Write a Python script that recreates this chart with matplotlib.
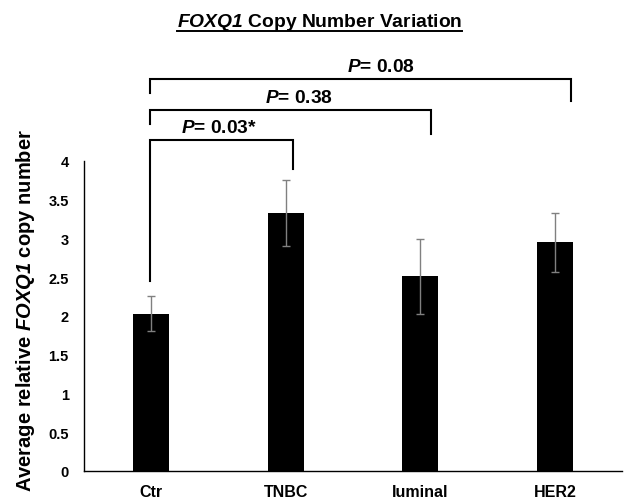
import matplotlib
matplotlib.use("Agg")
import matplotlib.pyplot as plt
from matplotlib.lines import Line2D

plt.rcParams['font.family'] = ['Liberation Sans', 'DejaVu Sans']
plt.rcParams['mathtext.fontset'] = 'custom'
plt.rcParams['mathtext.rm'] = 'Liberation Sans:bold'
plt.rcParams['mathtext.bf'] = 'Liberation Sans:bold'
plt.rcParams['mathtext.it'] = 'Liberation Sans:bold:italic'
plt.rcParams['mathtext.bfit'] = 'Liberation Sans:bold:italic'

categories = ["Ctr", "TNBC", "luminal", "HER2"]
values = [2.03, 3.33, 2.51, 2.95]
errors = [0.23, 0.43, 0.48, 0.38]
yticks = [0, 0.5, 1, 1.5, 2, 2.5, 3, 3.5, 4]
ytick_labels = ["0", "0.5", "1", "1.5", "2", "2.5", "3", "3.5", "4"]
p_labels = ["= 0.03*", "= 0.38", "= 0.08"]

fig = plt.figure(figsize=(6.44, 5.02), dpi=100)
ax = fig.add_axes([0.1304, 0.0598, 0.8356, 0.6175])
x = list(range(len(categories)))
ax.bar(x, values, width=0.27, color='black', zorder=2)
ax.errorbar(x, values, yerr=errors, fmt='none', ecolor='#808080', elinewidth=1.0,
            capsize=3, capthick=1.0, zorder=3)
ax.set_xlim(-0.5, 3.5)
ax.set_ylim(0, 4)
ax.set_yticks(yticks)
ax.set_yticklabels(ytick_labels, fontsize=10.5, fontweight='bold')
ax.set_xticks(x)
ax.set_xticklabels(categories, fontsize=11.5, fontweight='bold')
ax.tick_params(axis='both', length=0)
ax.tick_params(axis='y', pad=11)
ax.tick_params(axis='x', pad=9.5)
for s in ['top', 'right']:
    ax.spines[s].set_visible(False)
for s in ['left', 'bottom']:
    ax.spines[s].set_linewidth(1.0)
    ax.spines[s].set_color('black')

fig.text(26 / 644, 1 - 311 / 502, r"Average relative $\mathbfit{FOXQ1}$ copy number",
         rotation=90, ha='center', va='center', fontsize=14.5, fontweight='bold')

# significance brackets (data coords, drawn above axes)
brackets = [
    # x_left, x_right, y_top, y_left_bottom, y_right_bottom
    (-0.01, 1.057, 4.275, 2.45, 3.90),
    (-0.01, 2.083, 4.66, 4.48, 4.35),
    (-0.01, 3.118, 5.06, 4.88, 4.77),
]
text_pos = [(0.50, 4.43), (1.10, 4.82), (1.71, 5.22)]
for (xl, xr, yt, ylb, yrb), (tx, ty), lab in zip(brackets, text_pos, p_labels):
    ax.plot([xl, xl, xr, xr], [ylb, yt, yt, yrb], color='black', lw=1.5,
            clip_on=False, solid_joinstyle='miter', zorder=4)
    ax.text(tx, ty, r"$\mathbfit{P}$" + lab, ha='center', va='center',
            fontsize=13.8, fontweight='bold', clip_on=False)

title = fig.text(0.496, 0.956, r"$\mathbfit{FOXQ1}$ Copy Number Variation",
                 ha='center', va='center', fontsize=13.9, fontweight='bold')
fig.canvas.draw()
bb = title.get_window_extent(renderer=fig.canvas.get_renderer())
W, H = fig.bbox.width, fig.bbox.height
uy = 1 - 32 / 502
fig.add_artist(Line2D([bb.x0 / W, bb.x1 / W], [uy, uy], color='black', lw=1.4))

fig.savefig("out.png", dpi=100)
